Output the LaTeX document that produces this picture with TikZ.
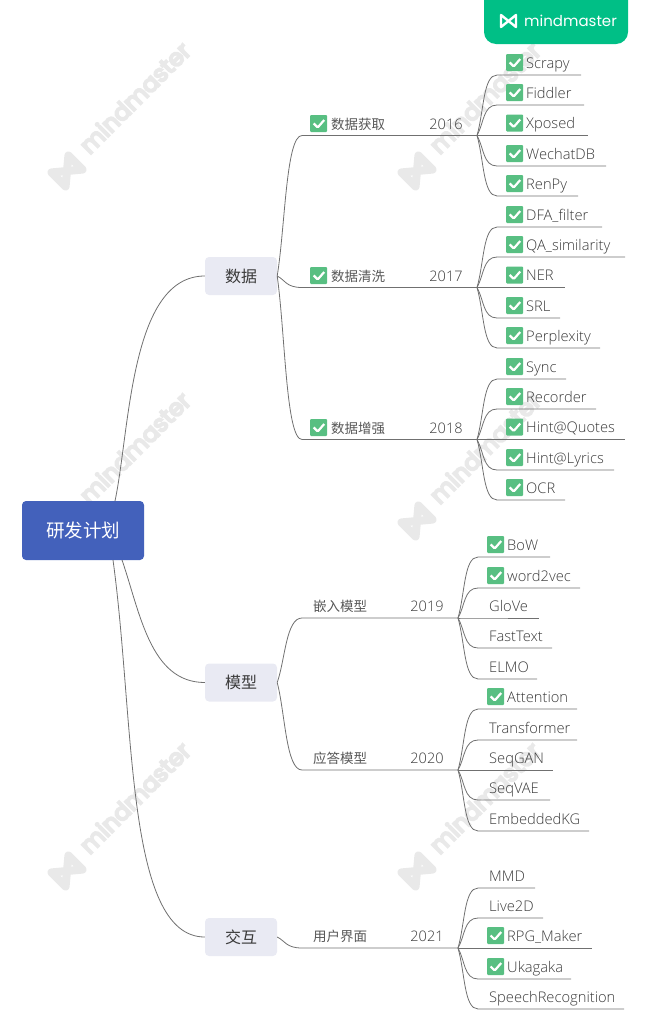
\documentclass[tikz,border=0pt]{standalone}
\usepackage{fontspec}
\setmainfont{Open Sans Light}
\newfontfamily\cjk{Noto Sans CJK SC}
\newfontfamily\logofont{Poppins}
\definecolor{rootblue}{HTML}{4361BB}
\definecolor{subgrey}{HTML}{E9EAF3}
\definecolor{tickgreen}{HTML}{58BF82}
\definecolor{logogreen}{HTML}{00BF86}
\definecolor{markgrey}{HTML}{E9E9E9}
\definecolor{inkgrey}{HTML}{3A3A3A}
\definecolor{linegrey}{HTML}{707070}
\tikzset{
  link/.style={draw=linegrey,line width=0.8pt},
  mainbox/.style={rounded corners=4pt,minimum width=72pt,minimum height=38pt,fill=subgrey,text=inkgrey,font=\cjk\fontsize{16}{16}\selectfont,inner sep=0pt},
  rootbox/.style={rounded corners=4pt,minimum width=122pt,minimum height=59pt,fill=rootblue,text=white,font=\cjk\fontsize{18.5}{19}\selectfont,inner sep=0pt},
  topictext/.style={text=inkgrey!85,font=\cjk\fontsize{13.5}{14}\selectfont,inner sep=0pt,anchor=west},
  yeartext/.style={text=inkgrey,font=\fontsize{14.5}{15}\selectfont,inner sep=0pt},
  leaftext/.style={text=inkgrey,font=\fontsize{14.7}{15}\selectfont,inner sep=0pt,anchor=base west},
  tickbox/.style={fill=tickgreen,minimum size=17pt,inner sep=0pt,rounded corners=1pt,anchor=west,
    path picture={\draw[white,line width=2.2pt] ([shift={(-5,0)}]path picture bounding box.center) -- ++(4,4) -- ++(6.5,-7.5);}},
  markicon/.style={line width=#1,line join=round}
}
% one watermark, icon centre at #1
\newcommand{\wmark}[2]{
  \begin{scope}[shift={(#1)},rotate=45]
    \draw[markgrey,markicon=8pt] (-12,10) -- (-12,-10) -- (12,10) -- (12,-10) -- cycle;
    \node[anchor=west,text=markgrey,font=\logofont\fontsize{23.5}{24}\selectfont,rotate=45,inner sep=0pt] (#2) at (27,-4) {\special{pdf:code 2 Tr 2 w}mindmaster\special{pdf:code 0 Tr 1 w}};
  \end{scope}
}
% #1 node name, #2 parent, #3 y, #4 x of the fork, #5 tick or not, #6 label, #7 year
\newcommand{\topic}[7]{
  \pgfmathsetmacro\dy{#3-\csname y#2\endcsname}
  \coordinate (#1a) at (302,#3);
  \coordinate (#1) at (#4,#3);
  \draw[link] (#2.east) .. controls +(8,{0.35*\dy}) and +(-16,0) .. (#1a) -- (#1);
  \ifnum#5=1
    \node[tickbox] (#1t) at (310,#3-12) {};
    \node[topictext] (#1l) at (331,#3-11) {#6};
  \else
    \node[topictext] (#1l) at (313,#3-12) {#6};
  \fi
  \node[yeartext] (#1y) at (#4-31,#3-11.5) {#7};
}
% #1 fork, #2 its y, #3 x where the leaf lines start, #4 list
\newcommand{\leaves}[4]{
  \foreach \lbl/\ly/\lend/\ck [count=\s] in {#4}
  {
    \pgfmathsetmacro\dy{\ly-#2}
    \coordinate (#1s\s) at (#3,\ly);
    \coordinate (#1e\s) at (\lend,\ly);
    \draw[link] (#1) .. controls +(7,{0.4*\dy}) and +(-14,0) .. (#1s\s) -- (#1e\s);
    \ifnum\ck=1
      \node[tickbox] (#1c\s) at (#3+9,\ly-12.5) {};
      \node[leaftext] (#1n\s) at (#3+29,\ly-7) {\lbl};
    \else
      \node[leaftext] (#1n\s) at (#3+11,\ly-7) {\lbl};
    \fi
  }
}
\begin{document}
\begin{tikzpicture}[x=1pt,y=-1pt]
\useasboundingbox (0,0) rectangle (645,1031);

% watermarks
\foreach \wy [count=\w] in {171, 521, 871}
{
  \wmark{67,\wy}{wa\w}
  \wmark{417,\wy}{wb\w}
}

% badge
\fill[logogreen,rounded corners=12pt] (484,-20) rectangle (628,44);
\draw[white,line width=2.4pt,line join=round] (501,27) -- (501,15) -- (516,27) -- (516,15) -- cycle;
\node[anchor=west,text=white,font=\logofont\fontsize{15}{15}\selectfont,inner sep=0pt] (badge) at (524,21) {mindmaster};

% main nodes
\node[rootbox] (plan) at (83,530.5) {研发计划};
\node[mainbox] (data) at (241,276) {数据};
\node[mainbox] (model) at (241,682.5) {模型};
\node[mainbox] (ui) at (241,937) {交互};
\def\ydata{276}
\def\ymodel{682.5}
\def\yui{937}

\coordinate (planup) at (115,501);
\coordinate (planmid) at (122,560);
\coordinate (planlow) at (113,560);
\draw[link] (planup) .. controls (130,430) and (130,276) .. (data.west);
\draw[link] (planmid) .. controls (140,612) and (150,682.5) .. (model.west);
\draw[link] (planlow) .. controls (135,720) and (125,937) .. (ui.west);

% data
\topic{f16}{data}{135.5}{477}{1}{数据获取}{2016}
\leaves{f16}{135.5}{497}{Scrapy/75/581/1, Fiddler/105/584/1, Xposed/135.5/588/1, WechatDB/166/606/1, RenPy/196/578/1}
\topic{f17}{data}{287.5}{477}{1}{数据清洗}{2017}
\leaves{f17}{287.5}{497}{DFA\_filter/227/602/1, QA\_similarity/257/625/1, NER/287.5/565/1, SRL/318/560/1, Perplexity/348/600/1}
\topic{f18}{data}{439.5}{477}{1}{数据增强}{2018}
\leaves{f18}{439.5}{497}{Sync/379/566/1, Recorder/409/596/1, Hint@Quotes/439.5/625/1, Hint@Lyrics/470/614/1, OCR/500/565/1}

% model
\topic{f19}{model}{618}{458}{0}{嵌入模型}{2019}
\leaves{f19}{618}{478}{BoW/557/550/1, word2vec/588/580/1, GloVe/618/539/0, FastText/648/552/0, ELMO/679/537/0}
\topic{f20}{model}{770}{458}{0}{应答模型}{2020}
\leaves{f20}{770}{478}{Attention/709/577/1, Transformer/740/577/0, SeqGAN/770/553/0, SeqVAE/800/550/0, EmbeddedKG/831/589/0}

% interaction
\topic{f21}{ui}{948}{458}{0}{用户界面}{2021}
\leaves{f21}{948}{478}{MMD/888/535/0, Live2D/918/543/0, RPG\_Maker/948/592/1, Ukagaka/979/571/1, SpeechRecognition/1009/624/0}

\end{tikzpicture}
\end{document}
